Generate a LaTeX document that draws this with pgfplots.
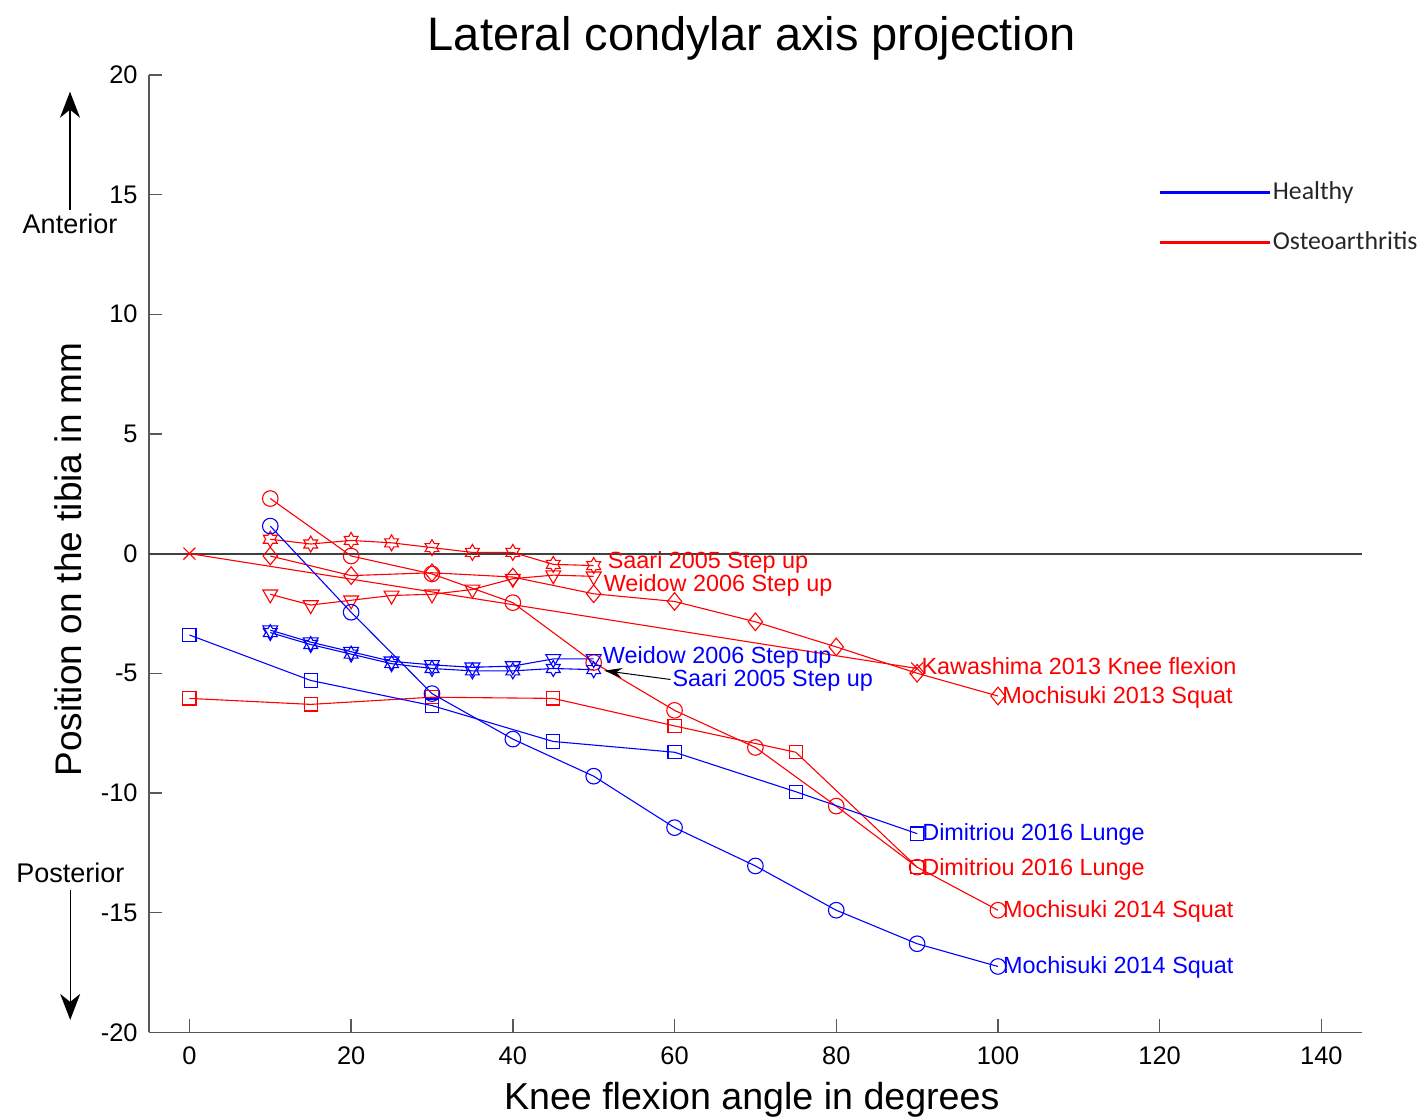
\documentclass[border=0pt]{standalone}
\usepackage{fontspec}
\setmainfont{Liberation Sans}
\newfontfamily\carlito{Carlito}
\usepackage{pgfplots}
\pgfplotsset{compat=1.18}
\usetikzlibrary{arrows.meta}

% MATLAB-like markers
\pgfdeclareplotmark{hexagram}{%
  \pgfpathmoveto{\pgfqpointpolar{90}{\pgfplotmarksize}}%
  \pgfpathlineto{\pgfqpointpolar{120}{0.577\pgfplotmarksize}}%
  \pgfpathlineto{\pgfqpointpolar{150}{\pgfplotmarksize}}%
  \pgfpathlineto{\pgfqpointpolar{180}{0.577\pgfplotmarksize}}%
  \pgfpathlineto{\pgfqpointpolar{210}{\pgfplotmarksize}}%
  \pgfpathlineto{\pgfqpointpolar{240}{0.577\pgfplotmarksize}}%
  \pgfpathlineto{\pgfqpointpolar{270}{\pgfplotmarksize}}%
  \pgfpathlineto{\pgfqpointpolar{300}{0.577\pgfplotmarksize}}%
  \pgfpathlineto{\pgfqpointpolar{330}{\pgfplotmarksize}}%
  \pgfpathlineto{\pgfqpointpolar{0}{0.577\pgfplotmarksize}}%
  \pgfpathlineto{\pgfqpointpolar{30}{\pgfplotmarksize}}%
  \pgfpathlineto{\pgfqpointpolar{60}{0.577\pgfplotmarksize}}%
  \pgfpathclose
  \pgfusepathqstroke}
\pgfdeclareplotmark{tridown}{%
  \pgfpathmoveto{\pgfqpointpolar{270}{\pgfplotmarksize}}%
  \pgfpathlineto{\pgfqpointpolar{30}{\pgfplotmarksize}}%
  \pgfpathlineto{\pgfqpointpolar{150}{\pgfplotmarksize}}%
  \pgfpathclose
  \pgfusepathqstroke}
\pgfdeclareplotmark{mdiamond}{%
  \pgfpathmoveto{\pgfqpoint{0pt}{1.1\pgfplotmarksize}}%
  \pgfpathlineto{\pgfqpoint{0.9\pgfplotmarksize}{0pt}}%
  \pgfpathlineto{\pgfqpoint{0pt}{-1.1\pgfplotmarksize}}%
  \pgfpathlineto{\pgfqpoint{-0.9\pgfplotmarksize}{0pt}}%
  \pgfpathclose
  \pgfusepathqstroke}

\newcommand{\lab}{\fontsize{11.7}{13}\selectfont}

\pgfplotsset{
  dat/.style={line width=0.55pt, mark options={solid, line width=0.55pt}},
}
\tikzset{lbl/.style={anchor=base west, inner sep=0pt, font=\lab}}

\begin{document}
\begin{tikzpicture}
\begin{axis}[
  name=ax, at={(0,0)}, anchor=south west,
  scale only axis, width=606.4pt, height=478.7pt,
  xmin=-5, xmax=145, ymin=-20, ymax=20,
  xtick={0,20,...,140}, ytick={-20,-15,...,20},
  axis x line*=bottom, axis y line*=left,
  axis line style={-, black!65, line width=0.7pt},
  tick style={black!65, line width=0.7pt},
  tick align=inside, major tick length=6.5pt,
  ticklabel style={font=\fontsize{12.7}{14}\selectfont},
  /pgf/number format/assume math mode=true,
  xticklabel style={inner sep=0pt, anchor=north, yshift=-7.2pt},
  yticklabel style={inner sep=0pt, anchor=east, xshift=-5.5pt},
  title={Lateral condylar axis projection},
  title style={at={(axis description cs:0.497,1.0134)}, anchor=base, inner sep=0pt,
    font=\fontsize{23.5}{26}\selectfont},
  xlabel={Knee flexion angle in degrees},
  xlabel style={at={(axis description cs:0.497,-0.0806)}, anchor=base, inner sep=0pt,
    font=\fontsize{18.8}{21}\selectfont},
  ylabel={Position on the tibia in mm},
  ylabel style={at={(axis description cs:-0.0553,0.494)}, anchor=base, inner sep=0pt,
    font=\fontsize{18.5}{21}\selectfont},
  clip=false,
  legend cell align=left,
  legend image code/.code={\draw[#1] (0pt,0pt) -- (55pt,0pt);},
  legend style={at={(axis cs:119.85,15.63)}, anchor=north west, draw=none, fill=none,
    inner sep=0pt, row sep=12pt, column sep=0.5pt, text=black!85,
    font=\carlito\fontsize{12.9}{15}\selectfont,
    nodes={inner sep=0pt, text height=10pt, text depth=3pt}},
]
\addlegendimage{blue, line width=1.5pt}
\addlegendentry{Healthy}
\addlegendimage{red, line width=1.5pt}
\addlegendentry{Osteoarthritis}

% zero line
\addplot[black!75, line width=1pt, forget plot] coordinates {(-5,0) (145,0)};

% ---- Osteoarthritis (red) ----
% Kawashima 2013 Knee flexion
\addplot[dat, red, mark=x, mark size=4.2pt] coordinates {(0,0) (90,-4.8)};
% Mochisuki 2013 Squat
\addplot[dat, red, mark=mdiamond, mark size=4pt] coordinates {
  (10,-0.1) (20,-0.92) (30,-0.8) (40,-0.98) (50,-1.68) (60,-2.0)
  (70,-2.85) (80,-3.9) (90,-5.0) (100,-5.95)};
% Saari 2005 Step up
\addplot[dat, red, mark=hexagram, mark size=4pt] coordinates {
  (10,0.6) (15,0.4) (20,0.55) (25,0.45) (30,0.25) (35,0.05) (40,0.05)
  (45,-0.45) (50,-0.5)};
% Weidow 2006 Step up
\addplot[dat, red, mark=tridown, mark size=4.3pt] coordinates {
  (10,-1.7) (15,-2.15) (20,-1.95) (25,-1.75) (30,-1.7) (35,-1.5) (40,-1.05)
  (45,-0.9) (50,-0.95)};
% Mochisuki 2014 Squat
\addplot[dat, red, mark=o, mark size=3.9pt] coordinates {
  (10,2.3) (20,-0.1) (30,-0.85) (40,-2.05) (50,-4.55) (60,-6.55) (70,-8.1)
  (80,-10.55) (90,-13.1) (100,-14.9)};
% Dimitriou 2016 Lunge
\addplot[dat, red, mark=square, mark size=3.3pt] coordinates {
  (0,-6.05) (15,-6.3) (30,-6.0) (45,-6.05) (60,-7.2) (75,-8.3) (90,-13.1)};

% ---- Healthy (blue) ----
% Mochisuki 2014 Squat
\addplot[dat, blue, mark=o, mark size=3.9pt] coordinates {
  (10,1.15) (20,-2.45) (30,-5.85) (40,-7.75) (50,-9.3) (60,-11.45) (70,-13.05)
  (80,-14.9) (90,-16.3) (100,-17.25)};
% Dimitriou 2016 Lunge
\addplot[dat, blue, mark=square, mark size=3.3pt] coordinates {
  (0,-3.4) (15,-5.3) (30,-6.35) (45,-7.85) (60,-8.3) (75,-9.95) (90,-11.7)};
% Saari 2005 Step up
\addplot[dat, blue, mark=hexagram, mark size=4pt] coordinates {
  (10,-3.3) (15,-3.8) (20,-4.2) (25,-4.6) (30,-4.8) (35,-4.9) (40,-4.9)
  (45,-4.8) (50,-4.85)};
% Weidow 2006 Step up
\addplot[dat, blue, mark=tridown, mark size=4.3pt] coordinates {
  (10,-3.2) (15,-3.7) (20,-4.1) (25,-4.5) (30,-4.65) (35,-4.75) (40,-4.7)
  (45,-4.4) (50,-4.4)};

% series labels
\node[lbl, red] at (axis cs:51.7,-0.62) {Saari 2005 Step up};
\node[lbl, red] at (axis cs:51.2,-1.58) {Weidow 2006 Step up};
\node[lbl, blue] at (axis cs:51.1,-4.60) {Weidow 2006 Step up};
\node[lbl, blue] at (axis cs:59.7,-5.56) {Saari 2005 Step up};
\draw[black, line width=0.5pt, -{Stealth[length=9pt,width=5pt]}]
  (axis cs:59.5,-5.26) -- (axis cs:51.3,-4.89);
\node[lbl, red] at (axis cs:90.5,-5.07) {Kawashima 2013 Knee flexion};
\node[lbl, red] at (axis cs:100.5,-6.25) {Mochisuki 2013 Squat};
\node[lbl, blue] at (axis cs:90.6,-11.98) {Dimitriou 2016 Lunge};
\node[lbl, red] at (axis cs:90.6,-13.43) {Dimitriou 2016 Lunge};
\node[lbl, red] at (axis cs:100.6,-15.2) {Mochisuki 2014 Squat};
\node[lbl, blue] at (axis cs:100.6,-17.53) {Mochisuki 2014 Squat};
\end{axis}

% direction hints left of the axis
\node[anchor=base, inner sep=0pt, font=\fontsize{13.5}{15}\selectfont] at (-39.5pt,399.2pt) {Anterior};
\draw[line width=0.6pt, -{Stealth[length=13pt,width=10pt,inset=4pt]}] (-39.5pt,411.2pt) -- (-39.5pt,470.3pt);
\node[anchor=base, inner sep=0pt, font=\fontsize{13.5}{15}\selectfont] at (-39.3pt,74.8pt) {Posterior};
\draw[line width=0.6pt, -{Stealth[length=13pt,width=10pt,inset=4pt]}] (-39.4pt,71.2pt) -- (-39.4pt,6.2pt);

\pgfresetboundingbox
\path (-74.5pt,-42.85pt) rectangle (637pt,516.15pt);
\end{tikzpicture}
\end{document}
